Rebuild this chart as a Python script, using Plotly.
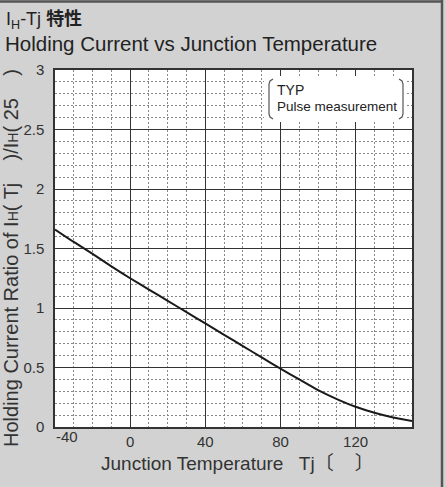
import plotly.graph_objects as go

# Data
tj = [-40, -30, -20, -10, 0, 10, 20, 30, 40, 50, 60, 70, 80, 90, 100, 110, 120, 130, 140, 150]
ratio = [1.66, 1.555, 1.455, 1.35, 1.25, 1.155, 1.06, 0.965, 0.87, 0.775, 0.68, 0.585, 0.49, 0.40, 0.31, 0.235, 0.17, 0.12, 0.08, 0.05]

x_tickvals = [-40, 0, 40, 80, 120]
x_ticktext = ["", "0", "40", "80", "120"]
y_tickvals = [0, 0.5, 1, 1.5, 2, 2.5, 3]
y_ticktext = ["0", "0.5", "1", "1.5", "2", "2.5", "3"]

W, H = 446, 487
L, R, T, B = 55, 34, 70, 60
PW, PH = W - L - R, H - T - B

def px(x):
    return (x - L) / PW

def py(y):
    return (H - B - y) / PH

TXT = "#333333"
FONT = "Liberation Sans, Arial, Noto Sans CJK JP, sans-serif"
TICKFONT = "Liberation Sans Narrow, Liberation Sans, Arial, sans-serif"

fig = go.Figure()
fig.add_trace(go.Scatter(x=tj, y=ratio, mode="lines",
                         line=dict(color="#1a1a1a", width=2, shape="spline", smoothing=0.6),
                         hoverinfo="skip", showlegend=False))

fig.update_layout(
    width=W, height=H,
    margin=dict(l=L, r=R, t=T, b=B, autoexpand=False),
    paper_bgcolor="#d2d2d2",
    plot_bgcolor="white",
    showlegend=False,
    xaxis=dict(range=[-40, 150], tickmode="array", tickvals=x_tickvals, ticktext=x_ticktext,
               automargin=False,
               showgrid=True, gridcolor="#333333", gridwidth=1, zeroline=False,
               showline=True, linecolor="#333333", linewidth=1.5, mirror=True,
               ticks="", ticklabelstandoff=0,
               tickfont=dict(family=TICKFONT, size=15, color=TXT),
               minor=dict(dtick=10, tick0=0, showgrid=True, gridcolor="#888888",
                          gridwidth=1, griddash="2px,2px")),
    yaxis=dict(range=[0, 3], tickmode="array", tickvals=y_tickvals, ticktext=y_ticktext,
               automargin=False,
               showgrid=True, gridcolor="#333333", gridwidth=1, zeroline=False,
               showline=True, linecolor="#333333", linewidth=1.5, mirror=True,
               ticks="", ticklabelstandoff=6,
               tickfont=dict(family=TICKFONT, size=15, color=TXT),
               minor=dict(dtick=0.1, tick0=0, showgrid=True, gridcolor="#888888",
                          gridwidth=1, griddash="2px,2px")),
)

SUBH = '<span style="font-size:14px">H</span>'
annotations = [
    dict(x=px(4), y=py(20), xref="paper", yref="paper", xanchor="left", yanchor="middle",
         text="I<sub>H</sub>-Tj <b>特性</b>", showarrow=False,
         font=dict(family=FONT, size=18, color="#222222")),
    dict(x=px(3), y=py(43), xref="paper", yref="paper", xanchor="left", yanchor="middle",
         text="Holding Current vs Junction Temperature", showarrow=False,
         font=dict(family=FONT, size=20.5, color="#222222")),
    dict(x=px(11), y=py(258), xref="paper", yref="paper", xanchor="center", yanchor="middle",
         textangle=-90,
         text=f"Holding Current Ratio of I{SUBH}( Tj    )/I{SUBH}( 25    )",
         showarrow=False, font=dict(family=FONT, size=20, color=TXT)),
    dict(x=px(237), y=py(463), xref="paper", yref="paper", xanchor="center", yanchor="middle",
         text="Junction Temperature   Tj〔    〕", showarrow=False,
         font=dict(family=FONT, size=19, color=TXT)),
    dict(x=x_tickvals[0], y=0, xref="x", yref="paper", xanchor="center", yanchor="top",
         xshift=12, yshift=1, text="-40", showarrow=False,
         font=dict(family=TICKFONT, size=15, color=TXT)),
    dict(x=px(275), y=py(90), xref="paper", yref="paper", xanchor="left", yanchor="middle",
         text="TYP", showarrow=False, font=dict(family=FONT, size=14, color="#222222")),
    dict(x=px(275), y=py(107), xref="paper", yref="paper", xanchor="left", yanchor="middle",
         text="Pulse measurement", showarrow=False,
         font=dict(family=FONT, size=13.5, color="#222222")),
]
fig.update_layout(annotations=annotations)

# Box behind TYP label and bracket marks; outer frame lines
bx0, bx1, by0, by1 = 264, 407, 76, 122
lb, rb, bt, bb = 269, 403, 79, 119
shapes = [
    dict(type="rect", xref="paper", yref="paper", x0=px(bx0), x1=px(bx1), y0=py(by1), y1=py(by0),
         fillcolor="white", line=dict(width=0), layer="above"),
    dict(type="path", xref="paper", yref="paper", layer="above",
         path=f"M {px(lb+4)},{py(bt)} L {px(lb+1)},{py(bt+2)} L {px(lb)},{py(bt+5)} "
              f"L {px(lb)},{py(bb-5)} L {px(lb+1)},{py(bb-2)} L {px(lb+4)},{py(bb)}",
         line=dict(color="#555555", width=1.2)),
    dict(type="path", xref="paper", yref="paper", layer="above",
         path=f"M {px(rb-4)},{py(bt)} L {px(rb-1)},{py(bt+2)} L {px(rb)},{py(bt+5)} "
              f"L {px(rb)},{py(bb-5)} L {px(rb-1)},{py(bb-2)} L {px(rb-4)},{py(bb)}",
         line=dict(color="#555555", width=1.2)),
    dict(type="line", xref="paper", yref="paper", x0=px(0), x1=px(443), y0=py(1.5), y1=py(1.5),
         line=dict(color="#555555", width=2.5)),
    dict(type="line", xref="paper", yref="paper", x0=px(442), x1=px(442), y0=py(0), y1=py(487),
         line=dict(color="#555555", width=2.5)),
]
fig.update_layout(shapes=shapes)

fig.write_html("out.html", config={"displayModeBar": False},
               post_script="document.body.style.margin='0px';")
